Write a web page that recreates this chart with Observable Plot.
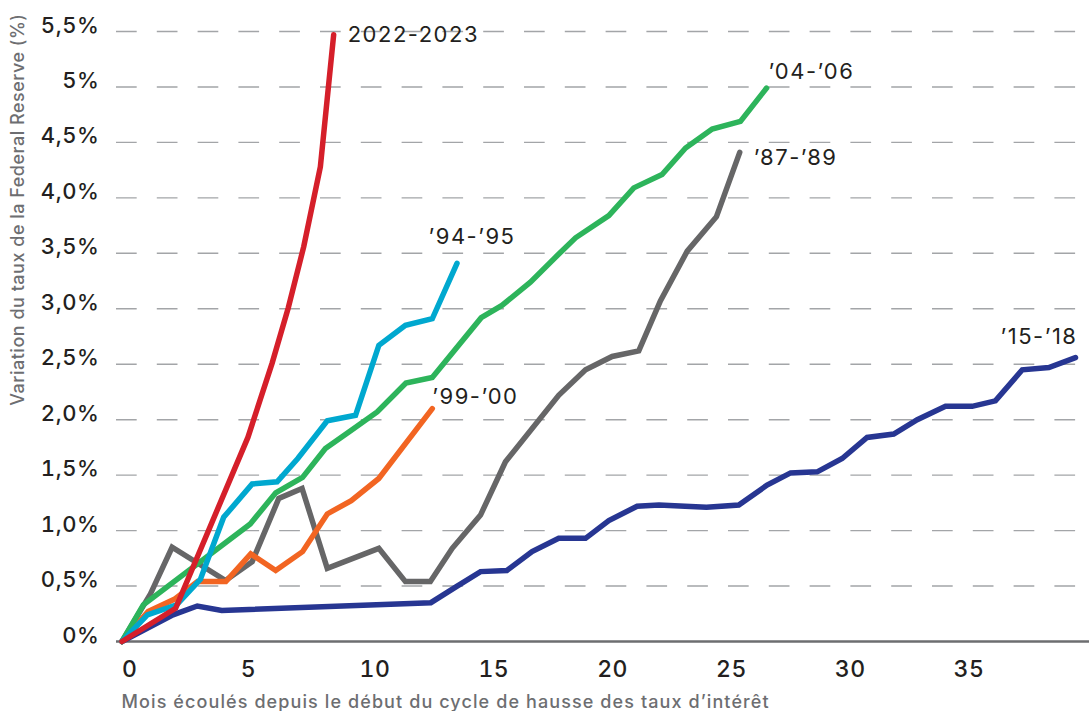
<!DOCTYPE html>
<html lang="fr">
<head>
<meta charset="utf-8">
<script src="https://cdn.jsdelivr.net/npm/d3@7"></script>
<script src="https://cdn.jsdelivr.net/npm/@observablehq/plot@0.6"></script>
<style>
  html, body { margin: 0; padding: 0; background: #fff; }
  #chart svg { display: block; }
  #chart g[aria-label="y-axis tick label"] text { letter-spacing: 0.6px; }
  #chart g[aria-label="x-axis tick label"] text { letter-spacing: 0.5px; }
</style>
</head>
<body>
<div id="chart"></div>
<script>
// Cycles de hausse des taux de la Fed : variation cumulée (%) selon les mois écoulés
const cycles = ["’15-’18", "’87-’89", "’99-’00", "’04-’06", "’94-’95", "2022-2023"];
const cycleColors = ["#273692", "#666667", "#f26522", "#2db45b", "#00a8cf", "#d51f2a"];

const months1518 = [0, 2.15, 3.17, 4.2, 13.0, 14.04, 15.09, 16.2, 17.26, 18.38, 19.51, 20.49, 21.68, 22.6, 23.7, 24.6, 25.96, 27.15, 28.14, 29.26, 30.31, 31.36, 32.48, 33.47, 34.66, 35.78, 36.76, 37.89, 39.01, 40.13];
const rates1518  = [0, 0.24, 0.32, 0.28, 0.35, 0.49, 0.63, 0.64, 0.81, 0.93, 0.93, 1.09, 1.22, 1.23, 1.22, 1.21, 1.23, 1.41, 1.52, 1.53, 1.65, 1.84, 1.87, 2.0, 2.12, 2.12, 2.17, 2.45, 2.47, 2.56];

const months8789 = [0, 1.2, 2.11, 4.36, 5.48, 6.6, 7.58, 8.64, 10.81, 11.93, 12.98, 13.9, 15.09, 16.14, 18.38, 19.51, 20.63, 21.75, 22.66, 23.79, 25.02, 26.0];
const rates8789  = [0, 0.43, 0.85, 0.55, 0.72, 1.29, 1.38, 0.66, 0.84, 0.54, 0.54, 0.84, 1.14, 1.62, 2.22, 2.45, 2.57, 2.62, 3.07, 3.52, 3.83, 4.41];

const months9900 = [0, 1.1, 2.2, 3.18, 4.37, 5.42, 6.47, 7.6, 8.64, 9.65, 10.81, 13.06];
const rates9900  = [0, 0.27, 0.38, 0.54, 0.54, 0.79, 0.64, 0.81, 1.15, 1.27, 1.47, 2.10];

const months0406 = [0, 0.9, 5.4, 6.47, 7.6, 8.56, 9.55, 10.74, 11.95, 13.06, 15.12, 15.99, 17.19, 18.32, 19.09, 20.49, 21.54, 22.73, 23.72, 24.84, 26.03, 27.13];
const rates0406  = [0, 0.33, 1.06, 1.34, 1.48, 1.74, 1.89, 2.07, 2.33, 2.38, 2.92, 3.03, 3.24, 3.48, 3.64, 3.84, 4.09, 4.21, 4.45, 4.62, 4.69, 4.99];

const months9495 = [0, 1.07, 2.3, 3.3, 4.28, 5.48, 6.53, 7.4, 8.64, 9.83, 10.81, 11.93, 13.06, 14.1];
const rates9495  = [0, 0.24, 0.33, 0.56, 1.12, 1.42, 1.44, 1.65, 1.99, 2.04, 2.67, 2.85, 2.91, 3.41];

const months2223 = [0, 2.26, 5.3, 6.32, 7.0, 7.65, 8.35, 8.91];
const rates2223  = [0, 0.30, 1.84, 2.51, 3.01, 3.56, 4.28, 5.47];

const yTicks = [0, 0.5, 1, 1.5, 2, 2.5, 3, 3.5, 4, 4.5, 5, 5.5];
const yTickLabels = ["0%", "0,5%", "1,0%", "1,5%", "2,0%", "2,5%", "3,0%", "3,5%", "4,0%", "4,5%", "5%", "5,5%"];
const xTicks = [0, 5, 10, 15, 20, 25, 30, 35];
const xTickLabels = ["0", "5", "10", "15", "20", "25", "30", "35"];

const yTitle = "Variation du taux de la Federal Reserve (%)";
const xTitle = "Mois écoulés depuis le début du cycle de hausse des taux d’intérêt";

// long table built from the per-cycle arrays
const seriesArrays = {
  "’15-’18": [months1518, rates1518],
  "’87-’89": [months8789, rates8789],
  "’99-’00": [months9900, rates9900],
  "’04-’06": [months0406, rates0406],
  "’94-’95": [months9495, rates9495],
  "2022-2023": [months2223, rates2223]
};
const rows = cycles.flatMap(c => {
  const [m, v] = seriesArrays[c];
  return m.map((month, i) => ({cycle: c, month, value: v[i]}));
});
const lastPoints = cycles.map(c => {
  const pts = rows.filter(r => r.cycle === c);
  return pts[pts.length - 1];
});

// end-of-line label placement
const labelStyle = {
  "2022-2023": {textAnchor: "start", dx: 14, dy: 0},
  "’94-’95": {textAnchor: "middle", dx: 15, dy: -26},
  "’04-’06": {textAnchor: "start", dx: 2, dy: -16},
  "’87-’89": {textAnchor: "start", dx: 14, dy: 6},
  "’99-’00": {textAnchor: "start", dx: 0, dy: -12},
  "’15-’18": {textAnchor: "end", dx: 2, dy: -21}
};

const font = "Inter, 'DejaVu Sans', sans-serif";

const chart = Plot.plot({
  width: 1089,
  height: 711,
  marginLeft: 116,
  marginRight: 0,
  marginTop: 31,
  marginBottom: 70,
  x: {domain: [-0.23, 40.72]},
  y: {domain: [0, 5.5]},
  color: {domain: cycles, range: cycleColors},
  style: {fontFamily: font, background: "#fff", color: "#231f20"},
  marks: [
    Plot.gridY(yTicks.filter(d => d > 0), {
      stroke: "#a3a5a8", strokeOpacity: 1, strokeWidth: 1.4, strokeDasharray: "20.7 20.1"
    }),
    Plot.ruleY([0], {stroke: "#6d6e70", strokeWidth: 2.4}),
    Plot.axisY({
      ticks: yTicks,
      tickFormat: d => yTickLabels[yTicks.indexOf(d)],
      tickSize: 0, tickPadding: 17, dy: -6,
      fontSize: 22, fontWeight: 500, fill: "#231f20",
      label: null
    }),
    Plot.axisX({
      ticks: xTicks,
      tickFormat: d => xTickLabels[xTicks.indexOf(d)],
      tickSize: 0, tickPadding: 19, textAnchor: "start",
      fontSize: 23, fontWeight: 500, fill: "#231f20",
      label: null
    }),
    Plot.line(rows, {
      x: "month", y: "value", z: "cycle", stroke: "cycle",
      strokeWidth: 5.5, strokeLinecap: "round", strokeLinejoin: "miter", strokeMiterlimit: 4
    }),
    ...lastPoints.map(p => Plot.text([p], {
      x: "month", y: "value", text: "cycle",
      fontSize: 22, fill: "#231f20", fontWeight: 400,
      ...labelStyle[p.cycle]
    })),
    Plot.text([yTitle], {
      frameAnchor: "top-left", rotate: -90, textAnchor: "end", lineAnchor: "middle",
      dx: -98, dy: -18, fontSize: 18, fontWeight: 500, fill: "#6d6e71"
    }),
    Plot.text([xTitle], {
      frameAnchor: "bottom-left", textAnchor: "start", lineAnchor: "middle",
      dx: 5, dy: 61, fontSize: 18, fontWeight: 500, fill: "#6d6e71"
    })
  ]
});

// wider tracking for the cycle labels and the axis titles
const tracking = new Map([...cycles.map(c => [c, "1.5px"]), [yTitle, "0.5px"], [xTitle, "1.1px"]]);
d3.select(chart).selectAll("text").each(function() {
  const t = this.textContent;
  if (tracking.has(t)) this.style.letterSpacing = tracking.get(t);
});

document.getElementById("chart").append(chart);
</script>
</body>
</html>
